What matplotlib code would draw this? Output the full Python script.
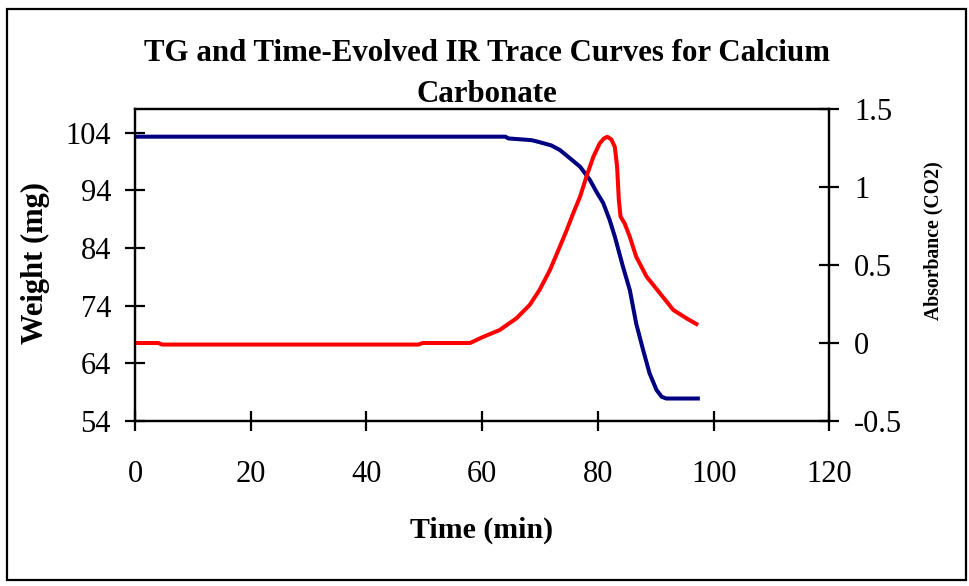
import matplotlib
matplotlib.use("Agg")
import matplotlib.pyplot as plt
from matplotlib.patches import Rectangle

plt.rcParams["font.family"] = ["Liberation Serif", "DejaVu Serif"]

### data ###
t_tg = [0, 60, 64, 64.5, 68.5, 69.7, 71.9, 73.4, 75.1, 76.9, 78.6, 79.7, 80.9,
        82.0, 82.9, 84.3, 85.5, 86.6, 87.8, 88.9, 90.1, 91.0, 91.8, 97.6]
weight = [103.3, 103.3, 103.3, 103.0, 102.7, 102.4, 101.8, 101.0, 99.6, 98.1,
          95.8, 93.8, 91.8, 88.9, 86.0, 80.8, 76.7, 70.9, 66.3, 62.3, 59.4, 58.2,
          57.9, 57.9]

t_ir = [0, 4, 4.7, 49, 49.7, 57.9, 60.2, 63.0, 65.9, 68.2, 69.9, 71.7, 73.4,
        74.6, 75.7, 76.9, 78.0, 79.2, 80.3, 81.0, 81.6, 82.3, 82.9, 83.3, 83.6,
        83.9, 84.6, 85.5, 86.6, 88.4, 90.7, 93.0, 95.3, 97.3]
absorb = [0.0, 0.0, -0.01, -0.01, 0.0, 0.0, 0.04, 0.083, 0.158, 0.244, 0.34,
          0.468, 0.617, 0.724, 0.83, 0.938, 1.066, 1.194, 1.28, 1.31, 1.322,
          1.305, 1.258, 1.13, 0.917, 0.81, 0.767, 0.68, 0.553, 0.425, 0.319,
          0.212, 0.158, 0.115]

x_ticks = [0, 20, 40, 60, 80, 100, 120]
w_ticks = [54, 64, 74, 84, 94, 104]
a_ticks = [-0.5, 0, 0.5, 1, 1.5]
a_labels = ["-0.5", "0", "0.5", "1", "1.5"]

W, H = 969, 586
fig = plt.figure(figsize=(W / 100, H / 100), dpi=100)

### outer chart border ###
fig.patches.append(Rectangle((7 / W, 1 - 580 / H), (966 - 7) / W, (580 - 9) / H,
                             transform=fig.transFigure, fill=False,
                             edgecolor="black", linewidth=1.6))

ax = fig.add_axes([135 / W, 1 - 421 / H, (829.5 - 135) / W, (421 - 109) / H])
ax2 = ax.twinx()

ax.plot(t_tg, weight, color="#000080", linewidth=2.9, solid_joinstyle="round",
        solid_capstyle="butt")
ax2.plot(t_ir, absorb, color="#ff0000", linewidth=2.9, solid_joinstyle="round",
         solid_capstyle="butt")

ax.set_xlim(0, 120)
ax.set_ylim(54, 108.1)
ax2.set_ylim(-0.5, 1.5)
ax.set_xticks(x_ticks)
ax.set_yticks(w_ticks)
ax2.set_yticks(a_ticks)
ax2.set_yticklabels(a_labels)

for a in (ax, ax2):
    for s in a.spines.values():
        s.set_linewidth(1.6)
ax.tick_params(axis="both", direction="inout", length=14.5, width=1.6,
               labelsize=22)
ax.tick_params(axis="x", pad=21)
ax.tick_params(axis="y", pad=10)
ax2.tick_params(axis="y", direction="inout", length=14.5, width=1.6,
                labelsize=22, pad=10.5)

### texts ###
fig.text(486.5 / W, 1 - 74 / H,
         "TG and Time-Evolved IR Trace Curves for Calcium\nCarbonate",
         ha="center", va="center", fontsize=22.2, fontweight="bold",
         linespacing=1.55)
fig.text(482 / W, 1 - 530 / H, "Time (min)", ha="center", va="center",
         fontsize=21.5, fontweight="bold")
fig.text(35 / W, 1 - 263 / H, "Weight (mg)", ha="center", va="center",
         rotation=90, fontsize=22, fontweight="bold")
fig.text(933 / W, 1 - 241 / H, "Absorbance (CO2)", ha="center", va="center",
         rotation=90, fontsize=14.2, fontweight="bold")

fig.savefig("out.png", dpi=100)
